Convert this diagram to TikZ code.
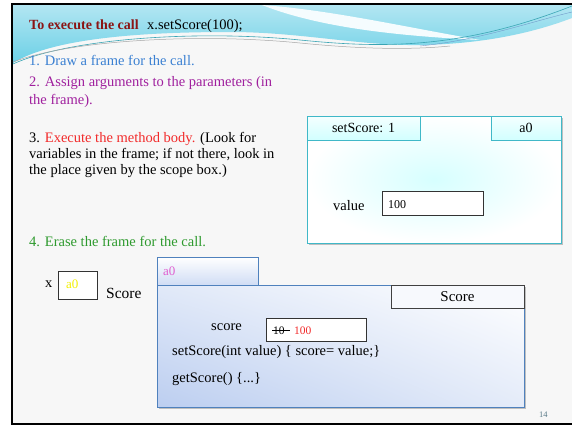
\documentclass[tikz,border=0pt]{standalone}
\usepackage{fontspec}
\setmainfont{Liberation Serif}
\usetikzlibrary{calc,positioning,shadings}

\definecolor{titlered}{HTML}{8B1414}
\definecolor{stepblue}{HTML}{3A80D2}
\definecolor{steppurple}{HTML}{A0209E}
\definecolor{stepred}{HTML}{F22A2A}
\definecolor{stepgreen}{HTML}{2E9A2E}
\definecolor{headtop}{HTML}{B2E6F2}
\definecolor{headbot}{HTML}{6CD0E6}
\definecolor{frameteal}{HTML}{40B8C8}
\definecolor{objblue}{HTML}{4F81BD}
\definecolor{objfill}{HTML}{BCCEF0}
\definecolor{aopink}{HTML}{E060D0}
\definecolor{aoyellow}{HTML}{F2F000}
\definecolor{pagegray}{HTML}{5A7A88}

\begin{document}
\begin{tikzpicture}[x=1pt,y=-1pt,
	txt/.style={anchor=base west,inner sep=0pt,font=\fontsize{14.5}{16}\selectfont},
	ftab/.style={draw=frameteal,line width=0.9pt,top color=cyan!4,bottom color=cyan!18,inner sep=0pt},
	otab/.style={draw=objblue,line width=0.9pt,top color=white,bottom color=objfill!70,inner sep=0pt},
	valbox/.style={draw=black!80,line width=0.8pt,fill=white,inner sep=0pt}]
	\useasboundingbox (0,0) rectangle (572,426);
	
	%slide background and border
	\fill[white!97!black] (12,4) rectangle (572,424);
	\draw[line width=2pt] (572,4) -- (12,4) -- (12,424) -- (572,424);
	
	%header wave
	\shade[top color=headtop,bottom color=headbot] (13,5) -- (572,5) -- (572,18)
		.. controls (530,34) and (480,44) .. (420,45)
		.. controls (360,46) and (300,32) .. (230,32)
		.. controls (130,32) and (50,40) .. (13,63) -- cycle;
	\fill[white!96!cyan] (262,5) .. controls (330,10) and (400,26) .. (480,40)
		.. controls (400,36) and (320,28) .. (262,5) -- cycle;
	\draw[frameteal!90!black,line width=0.6pt] (13,64) .. controls (70,38) and (200,30) .. (300,40)
		.. controls (380,48) and (460,50) .. (572,6);
	\draw[gray!70,line width=0.5pt] (13,62) .. controls (70,40) and (200,33) .. (300,43)
		.. controls (360,49) and (410,50) .. (450,46);
	\draw[objblue!80,line width=0.4pt] (420,46) .. controls (480,40) and (530,22) .. (572,12);
	
	%steps
	\node[txt,font=\fontsize{14}{16}\selectfont\bfseries,text=titlered] (title) at (29,29) {To execute the call};
	\node[txt] (call) at (147,29) {x.setScore(100);};
	\node[txt,text=stepblue] (stepa) at (29,65) {1. Draw a frame for the call.};
	\node[txt,text=steppurple] (stepb) at (29,86) {2. Assign arguments to the parameters (in};
	\node[txt,text=steppurple] (stepbb) at (29,104) {the frame).};
	\node[txt] (stepc) at (29,142) {3. \textcolor{stepred}{Execute the method body.} (Look for};
	\node[txt] (stepcb) at (29,158) {variables in the frame; if not there, look in};
	\node[txt] (stepcc) at (29,174) {the place given by the scope box.)};
	\node[txt,text=stepgreen] (stepd) at (29,246) {4. Erase the frame for the call.};
	
	%frame for the call
	\fill[black!25] (309,118) rectangle (563,245);
	\shade[draw=frameteal,line width=0.9pt,inner color=cyan!16,outer color=white] (307,116) rectangle (561,243);
	\node[ftab,minimum width=113pt,minimum height=24pt,font=\fontsize{14}{16}\selectfont] (calltab) at (363.5,128) {setScore: 1};
	\node[ftab,minimum width=70pt,minimum height=24pt,font=\fontsize{14}{16}\selectfont] (scopetab) at (526,128) {a0};
	\node[txt] (valname) at (333,210) {value};
	\node[valbox,minimum width=101pt,minimum height=24pt] (valcell) at (432.5,203) {};
	\node[txt,font=\fontsize{12}{14}\selectfont] (valnum) at (388,208) {100};
	
	%variable x
	\node[txt] (xname) at (45,287) {x};
	\node[valbox,minimum width=39pt,minimum height=28pt] (xcell) at (77.5,285) {};
	\node[txt,text=aoyellow,font=\fontsize{13}{15}\selectfont] (xval) at (66,288) {a0};
	\node[txt,font=\fontsize{15.5}{17}\selectfont] (xtype) at (106,298) {Score};
	
	%object a0
	\fill[black!25] (159,287) rectangle (526,409);
	\shade[draw=objblue,line width=0.9pt,lower left=objfill,lower right=objfill!40,upper left=objfill!45,upper right=white] (157,285) rectangle (524,407);
	\node[otab,minimum width=101pt,minimum height=28pt] (objtab) at (207.5,271) {};
	\node[txt,text=aopink,font=\fontsize{13}{15}\selectfont] (objname) at (163,275) {a0};
	\node[draw=black!75,line width=0.9pt,fill=white!60!objfill!30,minimum width=133pt,minimum height=23pt,inner sep=0pt,font=\fontsize{15}{17}\selectfont] (classbox) at (457.5,296.5) {Score};
	\node[txt] (fieldname) at (211,330) {score};
	\node[valbox,minimum width=100pt,minimum height=23pt] (fieldcell) at (316,329.5) {};
	\node[txt,font=\fontsize{11.5}{13}\selectfont] (oldval) at (273,334) {10};
	\draw[line width=0.7pt] ($(oldval.west)+(-1,0)$) -- ($(oldval.east)+(5,0)$);
	\node[txt,text=stepred,font=\fontsize{11.5}{13}\selectfont] (newval) at (294,334) {100};
	\node[txt] (setm) at (172,355) {setScore(int value) \{ score= value;\}};
	\node[txt] (getm) at (172,382) {getScore() \{...\}};
	
	%page number
	\node[txt,text=pagegray,font=\fontsize{8.5}{9}\selectfont] (pagenum) at (539,417) {14};
\end{tikzpicture}
\end{document}
